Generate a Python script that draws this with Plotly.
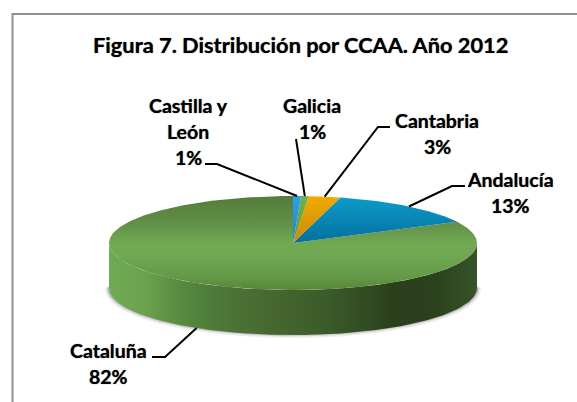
import numpy as np
import plotly.graph_objects as go

# ---- data ----
regions = ["Castilla y León", "Galicia", "Cantabria", "Andalucía", "Cataluña"]
values = [0.7, 0.65, 2.8, 13.4, 82.45]
percent_labels = ["1%", "1%", "3%", "13%", "82%"]
label_lines = [["Castilla y", "León", "1%"], ["Galicia", "1%"], ["Cantabria", "3%"], ["Andalucía", "13%"], ["Cataluña", "82%"]]
title_text = "Figura 7. Distribución por CCAA. Año 2012"

# ---- layout / styling ----
W, H = 577, 402
CX, CY, RX, RY, DEPTH = 293, 243, 184, 47, 45
FONT = "Lato"
LABEL_SIZE = 19.5
LINE_GAP = 26
TEXT_SHADOW = "0 0 1px rgba(0,0,0,0.7)"
label_pos = [(188, 105), (312, 105), (437, 120), (510, 179), (108, 350)]
leader_start = [[(205, 164), (217, 164)], [(296, 139)], [(390, 127), (378, 127)], [(465, 186), (452, 186)], [(152, 357), (165, 357)]]
slice_grad = [
    [[0, "#2f9fe8"], [1, "#1f86c8"]],
    [[0, "#6fb24c"], [1, "#5c9a3e"]],
    [[0, "#f2aa00"], [1, "#c98a08"]],
    [[0, "#0c9ccb"], [1, "#05709c"]],
    None,
]
top_grad = [[0, "#557c3c"], [0.25, "#5f8c45"], [0.5, "#70a853"], [0.62, "#70a853"], [0.85, "#659a48"], [1, "#578538"]]
side_grad = [[0, "#70aa54"], [0.1, "#6ba24f"], [0.16, "#5f9245"], [0.2, "#568a3e"], [0.3, "#4d7738"], [0.45, "#46672f"],
             [0.6, "#3a5a2a"], [0.78, "#2a3f1c"], [0.88, "#2b401d"], [1, "#35542a"]]

def pt(theta, dy=0.0):
    return CX + RX * np.sin(theta), CY - RY * np.cos(theta) + dy

fracs = np.array(values) / sum(values)
edges = np.concatenate([[0], np.cumsum(fracs)]) * 2 * np.pi

fig = go.Figure()

# soft shadow below the side wall
t = np.linspace(np.pi / 2 - 0.02, 3 * np.pi / 2 + 0.02, 200)
for off, alpha, w in [(2.0, 0.10, 4), (1.2, 0.18, 2.5), (0.6, 0.3, 1.5)]:
    sx, sy = pt(t, DEPTH)
    sx = CX + (sx - CX) * (1 + off / RX)
    fig.add_trace(go.Scatter(x=sx, y=sy + off - 1, mode="lines", line=dict(color=f"rgba(90,90,90,{alpha})", width=w),
                             hoverinfo="skip", showlegend=False))

# side wall
t = np.linspace(np.pi / 2, 3 * np.pi / 2, 200)
x1, y1 = pt(t)
x2, y2 = pt(t[::-1], DEPTH)
fig.add_trace(go.Scatter(x=np.concatenate([x1, x2]), y=np.concatenate([y1, y2]), mode="lines", fill="toself",
                         line=dict(width=0), hoverinfo="skip", showlegend=False,
                         fillgradient=dict(type="horizontal", colorscale=side_grad, start=CX - RX, stop=CX + RX)))

# top face slices (drawn from values)
for i in [4, 3, 2, 1, 0]:
    th = np.linspace(edges[i], edges[i + 1], max(8, int(fracs[i] * 400)))
    ex, ey = pt(th)
    xs = np.concatenate([[CX], ex, [CX]])
    ys = np.concatenate([[CY], ey, [CY]])
    if slice_grad[i] is None:
        grad = dict(type="vertical", colorscale=top_grad, start=CY - RY, stop=CY + RY)
    else:
        grad = dict(type="vertical", colorscale=slice_grad[i], start=CY - RY, stop=CY)
    fig.add_trace(go.Scatter(x=xs, y=ys, mode="lines", fill="toself", line=dict(width=0), name=regions[i],
                             text=percent_labels[i], hoverinfo="name+text", showlegend=False, fillgradient=grad))

# leader lines and labels
mids = (edges[:-1] + edges[1:]) / 2
for i, m in enumerate(mids):
    ax, ay = pt(m, DEPTH if np.cos(m) < -0.0 else 0.0)
    lx = [p[0] for p in leader_start[i]] + [ax]
    ly = [p[1] for p in leader_start[i]] + [ay]
    fig.add_trace(go.Scatter(x=lx, y=ly, mode="lines", line=dict(color="#000000", width=2),
                             hoverinfo="skip", showlegend=False))

annotations = []
for (lxc, lyc), lines in zip(label_pos, label_lines):
    for j, s in enumerate(lines):
        annotations.append(dict(x=lxc, y=lyc + j * LINE_GAP, xref="x", yref="y", text=f"<b>{s}</b>", showarrow=False,
                                xanchor="center", yanchor="middle",
                                font=dict(family=FONT, size=LABEL_SIZE, color="#000000", shadow=TEXT_SHADOW)))
annotations.append(dict(x=300, y=44, xref="x", yref="y", text=f"<b>{title_text}</b>", showarrow=False,
                        xanchor="center", yanchor="middle",
                        font=dict(family=FONT, size=21.8, color="#000000", shadow=TEXT_SHADOW)))

shapes = [
    dict(type="line", xref="x", yref="y", x0=12, x1=577, y0=14, y1=14, line=dict(color="#909090", width=2)),
    dict(type="line", xref="x", yref="y", x0=12.5, x1=12.5, y0=13, y1=402, line=dict(color="#909090", width=2)),
]

fig.update_layout(
    width=W, height=H, margin=dict(l=0, r=0, t=0, b=0), paper_bgcolor="#ffffff", plot_bgcolor="#ffffff",
    xaxis=dict(range=[0, W], visible=False, fixedrange=True),
    yaxis=dict(range=[H, 0], visible=False, fixedrange=True),
    annotations=annotations, shapes=shapes, showlegend=False,
)
fig.write_html("out.html", config=dict(displayModeBar=False),
               post_script="document.body.style.margin='0';document.documentElement.style.overflow='hidden';")
